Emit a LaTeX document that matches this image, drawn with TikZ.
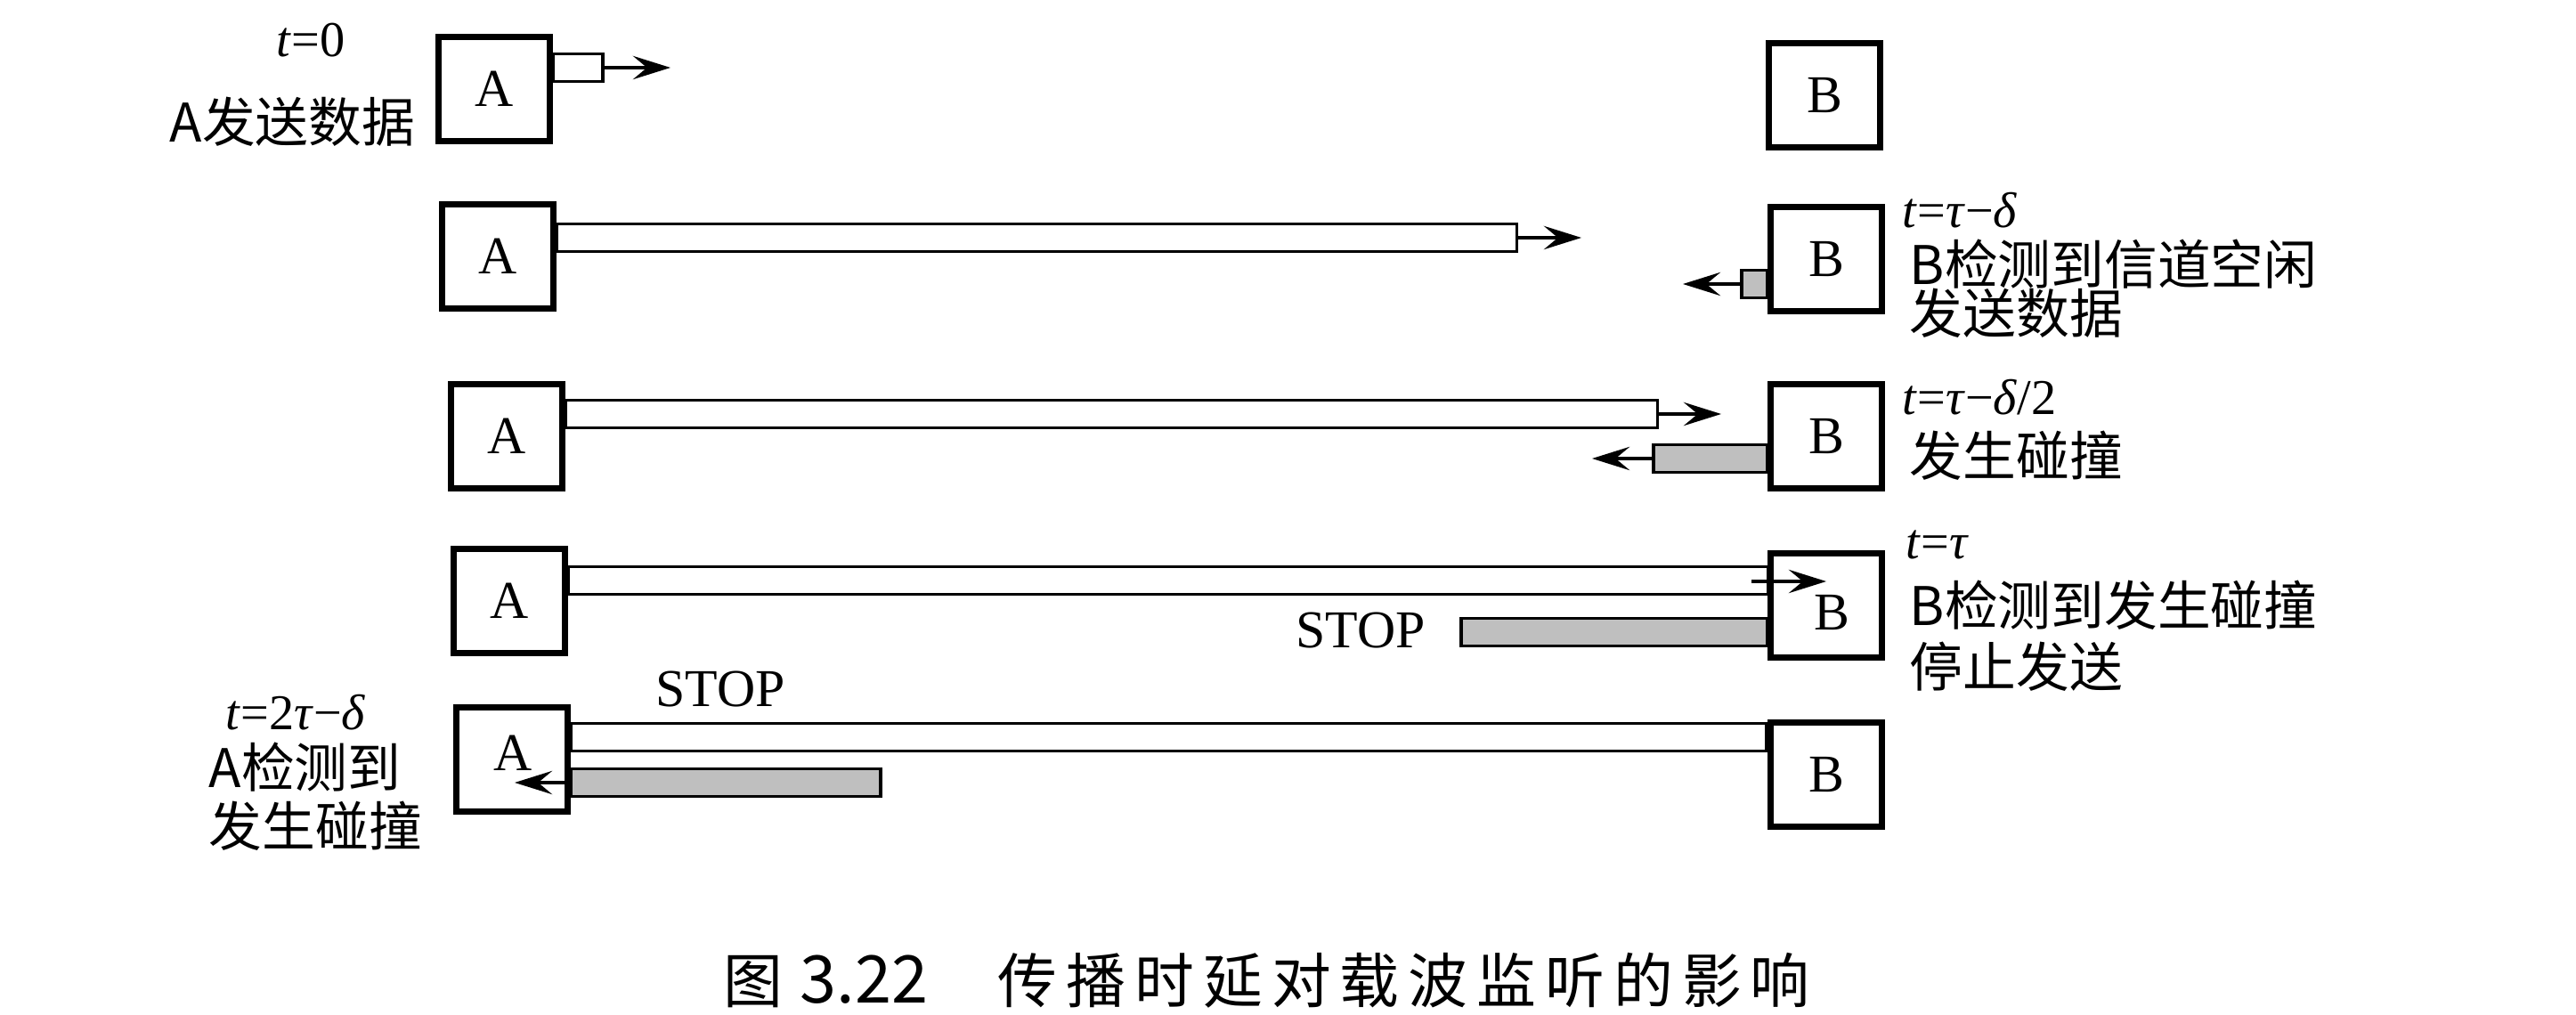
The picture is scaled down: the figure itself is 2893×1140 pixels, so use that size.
\documentclass[tikz,border=0pt]{standalone}
\usepackage{fontspec}
\setmainfont{Liberation Serif}
\newfontfamily\hei{Noto Sans CJK SC}
\newfontfamily\legende[LetterSpace=15]{Noto Sans CJK SC}
\usetikzlibrary{arrows.meta}

\begin{document}
\begin{tikzpicture}[
        x=0.01cm, y=-0.01cm,
        boite/.style={draw, line width=1.9pt, fill=white, inner sep=0pt,
            minimum width=1.25cm, minimum height=1.17cm,
            font=\fontsize{17}{17}\selectfont},
        blanc/.style={draw, line width=1pt, fill=white, inner sep=0pt,
            outer sep=0pt, minimum height=0.31cm},
        gris/.style={blanc, fill=gray!50},
        fl/.style={line width=0.9pt, -{Stealth[length=12pt,width=7.5pt,inset=4.5pt]}},
        note/.style={anchor=west, inner sep=0pt, font=\hei\fontsize{17}{20}\selectfont},
        temps/.style={anchor=west, inner sep=0pt, font=\fontsize{16}{18}\selectfont},
        stop/.style={inner sep=0pt, font=\fontsize{17}{18}\selectfont},
    ]
    \useasboundingbox (0,0) rectangle (2893,1140);

    % t = 0
    \node[boite] (a1) at (555,100) {A};
    \node[boite] (b1) at (2049,107) {B};
    \node[blanc, anchor=west, minimum width=0.56cm] (p1) at (a1.east |- 0,76) {};
    \coordinate (f1) at (753,76);
    \draw[fl] (p1.east) -- (f1);
    \node[temps] (t1) at (310,45) {\textit{t}=0};
    \node[note] (n1) at (190,137) {A发送数据};

    % t = tau - delta
    \node[boite] (a2) at (559,288) {A};
    \node[boite] (b2) at (2051,291) {B};
    \node[blanc, anchor=west, minimum width=10.78cm] (p2) at (a2.east |- 0,267) {};
    \node[gris, anchor=east, minimum width=0.29cm] (q2) at (b2.west |- 0,319) {};
    \coordinate (f2) at (1776,267);
    \coordinate (g2) at (1890,319);
    \draw[fl] (p2.east) -- (f2);
    \draw[fl] (q2.west) -- (g2);
    \node[temps] (t2) at (2136,236) {\textit{t}=\textit{τ}−\textit{δ}};
    \node[note] (n2) at (2144,297) {B检测到信道空闲};
    \node[note] (m2) at (2144,352) {发送数据};

    % t = tau - delta/2
    \node[boite] (a3) at (569,490) {A};
    \node[boite] (b3) at (2051,490) {B};
    \node[blanc, anchor=west, minimum width=12.26cm] (p3) at (a3.east |- 0,465) {};
    \node[gris, anchor=east, minimum width=1.28cm] (q3) at (b3.west |- 0,515) {};
    \coordinate (f3) at (1933,465);
    \coordinate (g3) at (1788,515);
    \draw[fl] (p3.east) -- (f3);
    \draw[fl] (q3.west) -- (g3);
    \node[temps] (t3) at (2136,446) {\textit{t}=\textit{τ}−\textit{δ}/2};
    \node[note] (n3) at (2144,512) {发生碰撞};

    % t = tau
    \node[boite] (a4) at (572,675) {};
    \node[boite] (b4) at (2051,680) {};
    \node[font=\fontsize{17}{17}\selectfont] (la4) at (a4) {A};
    \node[font=\fontsize{17}{17}\selectfont] (lb4) at (2057,688) {B};
    \node[blanc, anchor=west, minimum width=13.47cm] (p4) at (a4.east |- 0,652) {};
    \node[gris, anchor=east, minimum width=3.44cm] (q4) at (b4.west |- 0,710) {};
    \coordinate (d4) at (1967,653);
    \coordinate (f4) at (2051,653);
    \draw[fl] (d4) -- (f4);
    \node[stop] (s4) at (1528,708) {STOP};
    \node[temps] (t4) at (2140,612) {\textit{t}=\textit{τ}};
    \node[note] (n4) at (2144,680) {B检测到发生碰撞};
    \node[note] (m4) at (2144,749) {停止发送};

    % t = 2tau - delta
    \node[boite] (a5) at (575,853) {};
    \node[boite] (b5) at (2051,870) {B};
    \node[font=\fontsize{17}{17}\selectfont] (la5) at (576,846) {A};
    \node[blanc, anchor=west, minimum width=13.42cm] (p5) at (a5.east |- 0,828) {};
    \node[gris, anchor=west, minimum width=3.48cm] (q5) at (a5.east |- 0,879) {};
    \coordinate (g5) at (578,879);
    \draw[fl] (q5.west) -- (g5);
    \node[stop] (s5) at (809,774) {STOP};
    \node[temps] (t5) at (253,800) {\textit{t}=2\textit{τ}−\textit{δ}};
    \node[note] (n5) at (234,862) {A检测到};
    \node[note] (m5) at (234,928) {发生碰撞};

    % legende
    \node[anchor=base west, inner sep=0pt, font=\hei\fontsize{19}{20}\selectfont] (c1) at (812,1126) {图};
    \node[anchor=base west, inner sep=0pt, font=\hei\fontsize{21}{22}\selectfont] (c0) at (898,1126) {3.22};
    \node[anchor=base west, inner sep=0pt, font=\legende\fontsize{19}{20}\selectfont] (c2) at (1120,1126) {传播时延对载波监听的影响};
\end{tikzpicture}
\end{document}
